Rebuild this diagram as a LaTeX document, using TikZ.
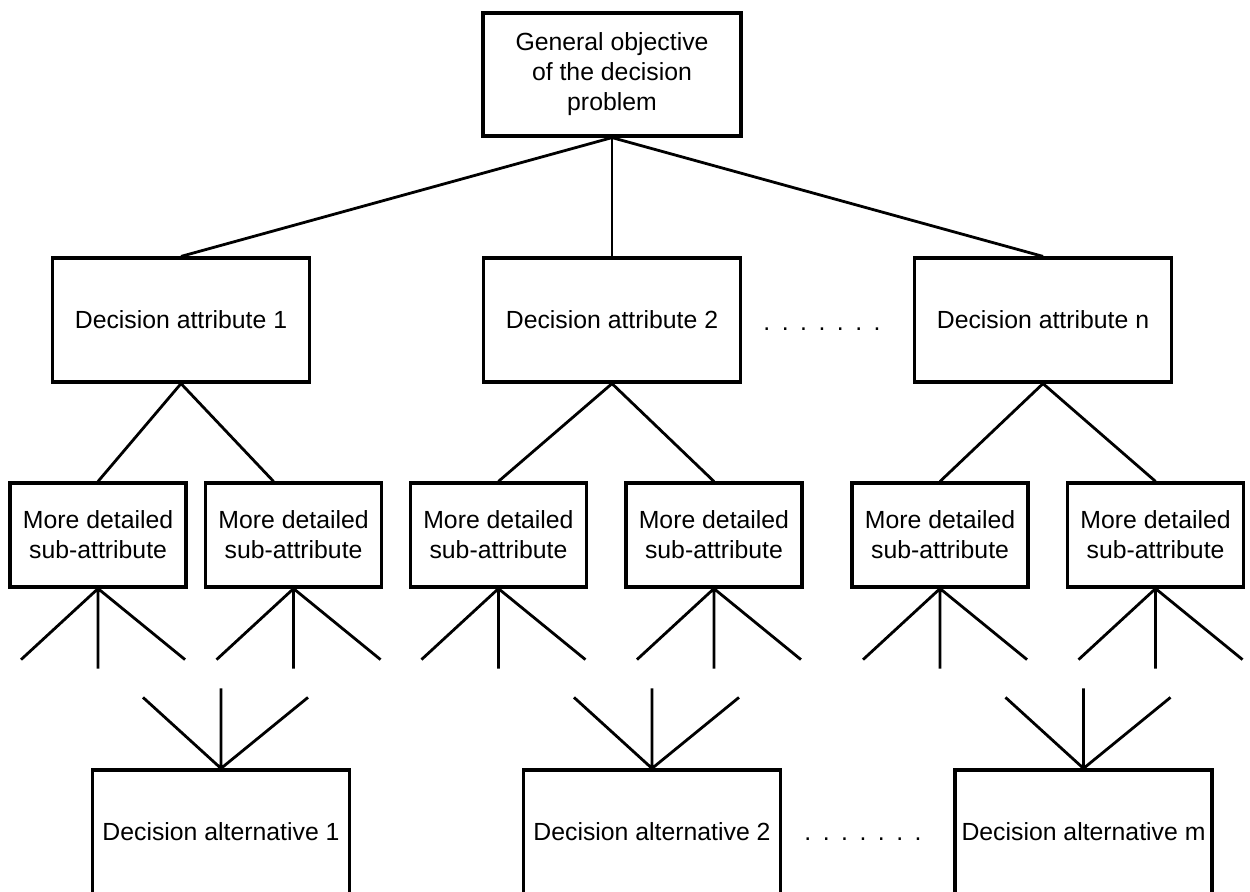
\documentclass[tikz,border=0pt]{standalone}
\usepackage{fontspec}
\setmainfont{Liberation Sans}
\usetikzlibrary{positioning}
\tikzset{
		>=stealth
	}

\begin{document}
\begin{tikzpicture}[x=1pt, y=1pt, grow=down,
					level 1/.style={sibling distance=215.5pt, level distance=122.75pt},
					level 2/.style={sibling distance=107.75pt, level distance=107.5pt},
					edge from parent/.style={draw, line width=1.4pt},
					edge from parent path={(\tikzparentnode.south) -- (\tikzchildnode.north)},
					box/.style={draw, line width=1.6pt, align=center, inner sep=1pt,
						font=\fontsize{12.4}{15}\selectfont},
					goal/.style={box, minimum width=129pt, minimum height=61.5pt},
					attribute/.style={box, minimum width=128.5pt, minimum height=62pt},
					subattr/.style={box, minimum width=88pt, minimum height=52pt},
					alternative/.style={box, minimum width=128.5pt, minimum height=62pt},
					fan/.style={line width=1.4pt},
					dotrow/.style={anchor=base, inner sep=0pt, font=\fontsize{12.4}{15}\selectfont}]
		\useasboundingbox (0,0) rectangle (625,-445.5);
		% objective, attributes and sub-attributes
		\node[goal] (g) at (306,-37.25) {General objective\\of the decision\\problem}
		child { node[attribute] (a1) {Decision attribute 1}
			child[xshift=12.4pt] { node[subattr] (s11) {More detailed\\sub-attribute} }
			child[xshift=2.4pt, edge from parent path={(\tikzparentnode.south) -- ([xshift=-10pt]\tikzchildnode.north)}] { node[subattr] (s12) {More detailed\\sub-attribute} }
		}
		child { node[attribute] (a2) {Decision attribute 2}
			child[xshift=-2.9pt] { node[subattr] (s21) {More detailed\\sub-attribute} }
			child[xshift=-2.9pt] { node[subattr] (s22) {More detailed\\sub-attribute} }
		}
		child { node[attribute] (an) {Decision attribute n}
			child[xshift=2.4pt] { node[subattr] (s31) {More detailed\\sub-attribute} }
			child[xshift=2.4pt] { node[subattr] (s32) {More detailed\\sub-attribute} }
		};
		\node[dotrow] (dots1) at (411,-165) {.\hspace{5.75pt}.\hspace{5.75pt}.\hspace{5.75pt}.\hspace{5.75pt}.\hspace{5.75pt}.\hspace{5.75pt}.};

		% alternatives
		\node[alternative] (d1) at (110.5,-416) {Decision alternative 1};
		\node[alternative] (d2) at (326,-416) {Decision alternative 2};
		\node[alternative] (dm) at (541.75,-416) {Decision alternative m};
		\node[dotrow] (dots2) at (431.5,-420) {.\hspace{5.75pt}.\hspace{5.75pt}.\hspace{5.75pt}.\hspace{5.75pt}.\hspace{5.75pt}.\hspace{5.75pt}.};

		% open branches
		\foreach \s in {s11,s12,s21,s22,s31,s32}
			\draw[fan] (\s.south) -- ++(-38.5,-35.5)
				(\s.south) -- ++(0,-40)
				(\s.south) -- ++(43.5,-35.5);
		\foreach \d in {d1,d2,dm}
			\draw[fan] (\d.north) -- ++(-39,35.5)
				(\d.north) -- ++(0,40)
				(\d.north) -- ++(43.5,35.5);
	\end{tikzpicture}
\end{document}
